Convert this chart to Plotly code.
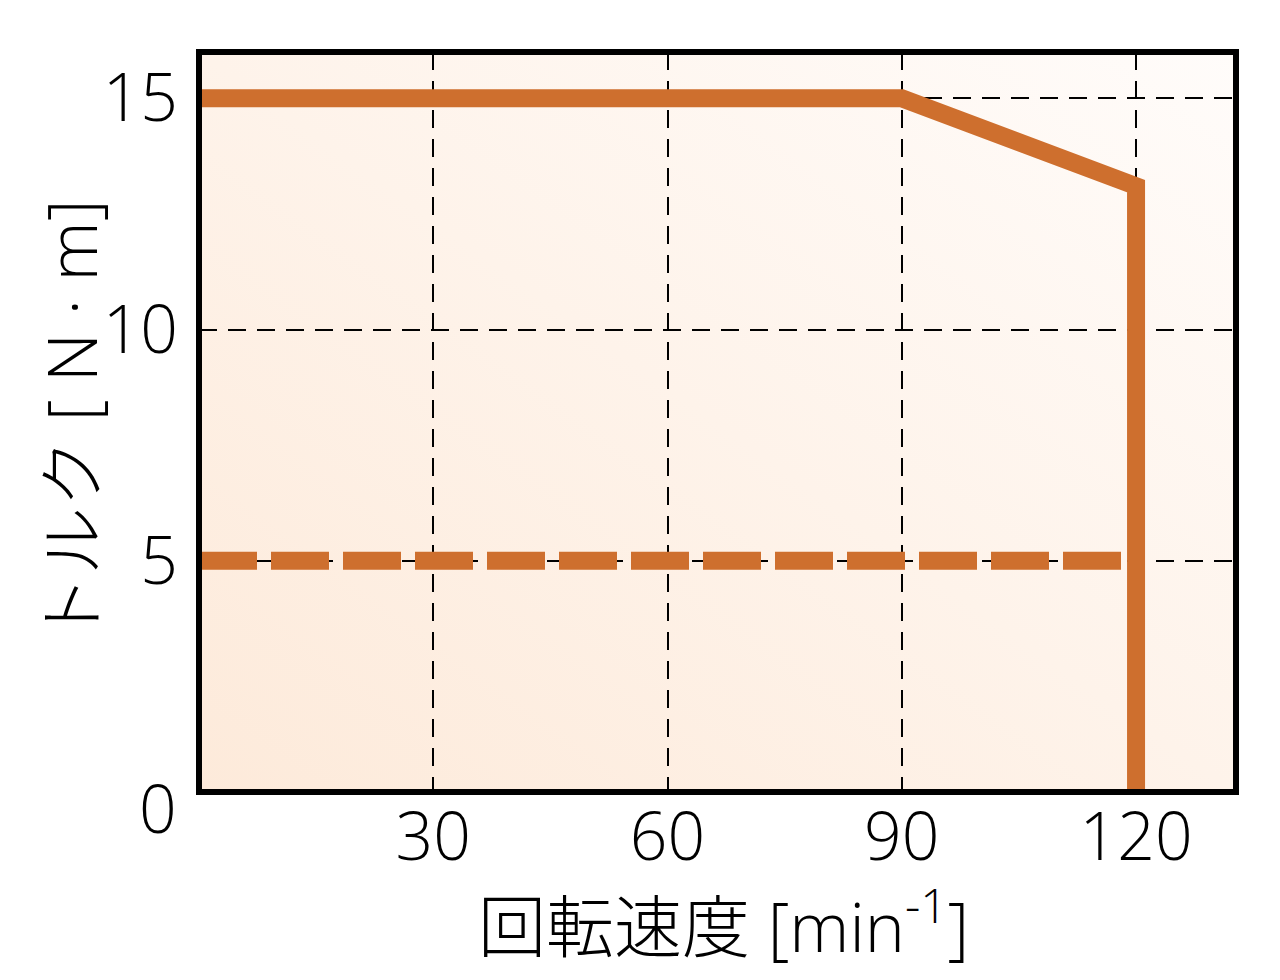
import base64
import plotly.graph_objects as go

# ---- data ----
speed_limit = [0, 90, 120, 120]          # min^-1
torque_limit = [15, 15, 13.1, 0]         # N·m
speed_rated = [0, 120]
torque_rated = [5, 5]
x_ticks = [30, 60, 90, 120]
y_ticks = [5, 10, 15]
x_title = "回転速度 [min<sup>-1</sup>]"
y_title = "トルク [ N · m]"

ORANGE = "#CE6F2E"
FONT = "Open Sans, Noto Sans CJK JP, sans-serif"

svg = ("<svg xmlns='http://www.w3.org/2000/svg' width='100' height='100' preserveAspectRatio='none'>"
       "<defs><linearGradient id='g' x1='0' y1='1' x2='1' y2='0'>"
       "<stop offset='0' stop-color='#FDEADA'/><stop offset='1' stop-color='#FFFCFA'/>"
       "</linearGradient></defs><rect width='100' height='100' fill='url(#g)'/></svg>")
bg_src = "data:image/svg+xml;base64," + base64.b64encode(svg.encode()).decode()

fig = go.Figure()
fig.add_trace(go.Scatter(x=speed_rated, y=torque_rated, mode="lines",
                         line=dict(color=ORANGE, width=18, dash="58px,14px"),
                         hoverinfo="skip", showlegend=False))
fig.add_trace(go.Scatter(x=speed_limit, y=torque_limit, mode="lines",
                         line=dict(color=ORANGE, width=18),
                         hoverinfo="skip", showlegend=False))

fig.update_layout(
    width=1280, height=980,
    margin=dict(l=191, r=52, t=44, b=196),
    paper_bgcolor="white",
    plot_bgcolor="rgba(0,0,0,0)",
    images=[dict(source=bg_src, xref="paper", yref="paper", x=0, y=1,
                 sizex=1, sizey=1, sizing="stretch", layer="below")],
    shapes=[dict(type="rect", xref="paper", yref="paper", x0=0, y0=0, x1=1, y1=1,
                 line=dict(color="black", width=6), layer="above")],
    annotations=[
        dict(text="0", x=0, y=0, xref="paper", yref="y", xanchor="right", yanchor="middle",
             xshift=-20, yshift=-15, showarrow=False,
             font=dict(family=FONT, size=66, color="black", weight=300)),
        dict(text=x_title, x=0.5, y=0, xref="paper", yref="paper", xanchor="center",
             yanchor="middle", yshift=-130, xshift=6, showarrow=False,
             font=dict(family=FONT, size=68, color="black", weight=300)),
        dict(text=y_title, x=0, y=0.5, xref="paper", yref="paper", xanchor="center",
             yanchor="middle", xshift=-129, yshift=0, textangle=-90, showarrow=False,
             font=dict(family=FONT, size=68, color="black", weight=300)),
    ],
)
fig.update_xaxes(range=[0, 132.8], tickvals=x_ticks, showline=False, zeroline=False,
                 showgrid=True, gridcolor="black", gridwidth=2, griddash="18px,11px",
                 ticks="", ticklabelstandoff=1,
                 tickfont=dict(family=FONT, size=66, color="black", weight=300))
fig.update_yaxes(range=[0, 16], tickvals=y_ticks, showline=False, zeroline=False,
                 showgrid=True, gridcolor="black", gridwidth=2, griddash="18px,11px",
                 ticks="", ticklabelstandoff=20,
                 tickfont=dict(family=FONT, size=66, color="black", weight=300))

fig.write_html("out.html")
